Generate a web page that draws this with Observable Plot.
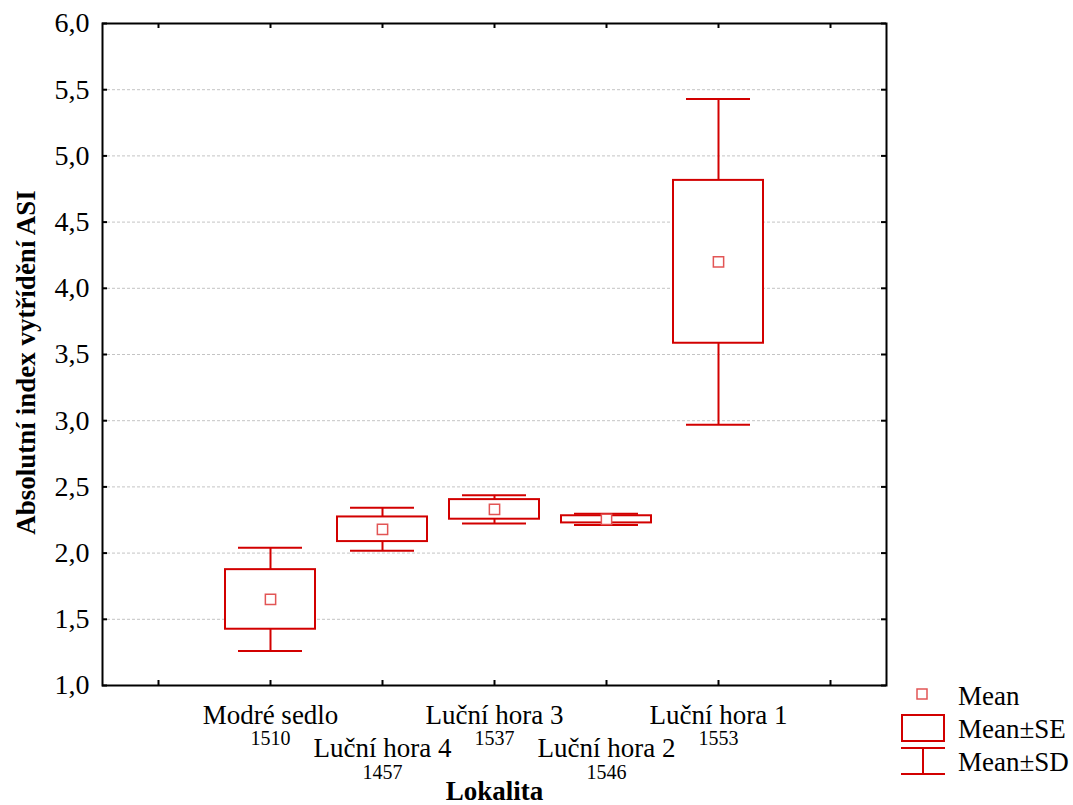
<!DOCTYPE html>
<html>
<head>
<meta charset="utf-8">
<script src="https://cdn.jsdelivr.net/npm/d3@7"></script>
<script src="https://cdn.jsdelivr.net/npm/@observablehq/plot@0.6"></script>
<style>
  html, body { margin: 0; padding: 0; background: #fff; }
  #wrap { position: relative; width: 1073px; height: 805px; font-family: "Liberation Serif", "Times New Roman", serif; }
  #legend { position: absolute; left: 890px; top: 670px; }
</style>
</head>
<body>
<div id="wrap"></div>
<script>
// ---- data ----
const names = ["Modré sedlo", "Luční hora 4", "Luční hora 3", "Luční hora 2", "Luční hora 1"];
const elevations = ["1510", "1457", "1537", "1546", "1553"];
const means = [1.65, 2.18, 2.33, 2.255, 4.20];
const ses = [0.225, 0.093, 0.074, 0.027, 0.615];
const sds = [0.39, 0.162, 0.106, 0.042, 1.23];
const yTicks = [1.0, 1.5, 2.0, 2.5, 3.0, 3.5, 4.0, 4.5, 5.0, 5.5, 6.0];
const gridTicks = [1.5, 2.0, 2.5, 3.0, 3.5, 4.0, 4.5, 5.0, 5.5];
const yTitle = "Absolutní index vytřídění ASI";
const xTitle = "Lokalita";
const legendLabels = ["Mean", "Mean±SE", "Mean±SD"];

// ---- table ----
const rows = names.map((name, i) => ({
  name, elev: elevations[i], mean: means[i], se: ses[i], sd: sds[i], row: i % 2
}));
const xDomain = ["\u2009", ...names, "\u2002"];

const RED = "#d20000";
const MARK = "#e25555";
const FONT = "Liberation Serif";
const W = 1073, H = 805, mL = 102, mR = 187, mT = 23, mB = 120;
const fw = W - mL - mR, fh = H - mT - mB;
const fmt = d => d.toFixed(1).replace(".", ",");

const chart = Plot.plot({
  width: W, height: H,
  marginLeft: mL, marginRight: mR, marginTop: mT, marginBottom: mB,
  style: { fontFamily: FONT, fontSize: "27px", color: "black", background: "white" },
  x: { type: "band", domain: xDomain, padding: 0, axis: null },
  y: { domain: [1, 6], axis: null },
  marks: [
    Plot.ruleY(gridTicks, { stroke: "#c4c4c4", strokeDasharray: "3,2", strokeWidth: 1 }),
    // y tick labels
    Plot.text(yTicks, { y: d => d, text: fmt, frameAnchor: "left", textAnchor: "end", dx: -13, fontSize: 28, fill: "black" }),
    // inward ticks
    Plot.tickY(yTicks, { y: d => d, insetRight: fw - 5, stroke: "black", strokeWidth: 2 }),
    Plot.tickY(yTicks, { y: d => d, insetLeft: fw - 5, stroke: "black", strokeWidth: 2 }),
    Plot.tickX(xDomain, { x: d => d, insetBottom: fh - 5, stroke: "black", strokeWidth: 2 }),
    Plot.tickX(xDomain, { x: d => d, insetTop: fh - 5, stroke: "black", strokeWidth: 2 }),
    // whiskers (Mean±SD)
    Plot.ruleX(rows, { x: "name", y1: d => d.mean + d.se, y2: d => d.mean + d.sd, stroke: RED, strokeWidth: 2 }),
    Plot.ruleX(rows, { x: "name", y1: d => d.mean - d.se, y2: d => d.mean - d.sd, stroke: RED, strokeWidth: 2 }),
    Plot.tickY(rows, { x: "name", y: d => d.mean + d.sd, insetLeft: 24, insetRight: 24, stroke: RED, strokeWidth: 2 }),
    Plot.tickY(rows, { x: "name", y: d => d.mean - d.sd, insetLeft: 24, insetRight: 24, stroke: RED, strokeWidth: 2 }),
    // boxes (Mean±SE)
    Plot.barY(rows, { x: "name", y1: d => d.mean - d.se, y2: d => d.mean + d.se, insetLeft: 11, insetRight: 11, fill: "white", stroke: RED, strokeWidth: 2 }),
    // means
    Plot.dot(rows, { x: "name", y: "mean", symbol: "square", r: 5.8, fill: "white", stroke: MARK, strokeWidth: 1.5 }),
    // frame
    Plot.frame({ stroke: "black", strokeWidth: 2 }),
    // category labels (staggered)
    Plot.text(rows.filter(d => d.row === 0), { x: "name", text: "name", frameAnchor: "bottom", lineAnchor: "bottom", dy: 38, fontSize: 27, fill: "black" }),
    Plot.text(rows.filter(d => d.row === 0), { x: "name", text: "elev", frameAnchor: "bottom", lineAnchor: "bottom", dy: 59, fontSize: 20, fill: "black" }),
    Plot.text(rows.filter(d => d.row === 1), { x: "name", text: "name", frameAnchor: "bottom", lineAnchor: "bottom", dy: 71, fontSize: 27, fill: "black" }),
    Plot.text(rows.filter(d => d.row === 1), { x: "name", text: "elev", frameAnchor: "bottom", lineAnchor: "bottom", dy: 93, fontSize: 20, fill: "black" }),
    // axis titles
    Plot.text([xTitle], { frameAnchor: "bottom", lineAnchor: "bottom", dy: 114, fontSize: 27, fontWeight: "bold", fill: "black" }),
    Plot.text([yTitle], { frameAnchor: "left", textAnchor: "middle", rotate: -90, dx: -76, dy: 8, fontSize: 27, fontWeight: "bold", fill: "black" })
  ]
});

const wrap = document.getElementById("wrap");
wrap.appendChild(chart);

// ---- legend ----
const lg = d3.select(wrap).append("svg").attr("id", "legend")
  .attr("width", 183).attr("height", 120)
  .style("font-family", FONT).style("font-size", "27px");
const ox = 890, oy = 670;
lg.append("rect").attr("x", 917 - ox).attr("y", 689 - oy).attr("width", 10).attr("height", 10)
  .attr("fill", "white").attr("stroke", MARK).attr("stroke-width", 1.5);
lg.append("rect").attr("x", 902 - ox).attr("y", 715 - oy).attr("width", 42).attr("height", 26)
  .attr("fill", "white").attr("stroke", RED).attr("stroke-width", 2);
const sd = lg.append("g").attr("stroke", RED).attr("stroke-width", 2);
sd.append("line").attr("x1", 901 - ox).attr("x2", 945 - ox).attr("y1", 748 - oy).attr("y2", 748 - oy);
sd.append("line").attr("x1", 901 - ox).attr("x2", 945 - ox).attr("y1", 774 - oy).attr("y2", 774 - oy);
sd.append("line").attr("x1", 923 - ox).attr("x2", 923 - ox).attr("y1", 748 - oy).attr("y2", 774 - oy);
const baselines = [705, 738, 771];
legendLabels.forEach((t, i) => {
  lg.append("text").attr("x", 958 - ox).attr("y", baselines[i] - oy).attr("fill", "black").text(t);
});
</script>
</body>
</html>
